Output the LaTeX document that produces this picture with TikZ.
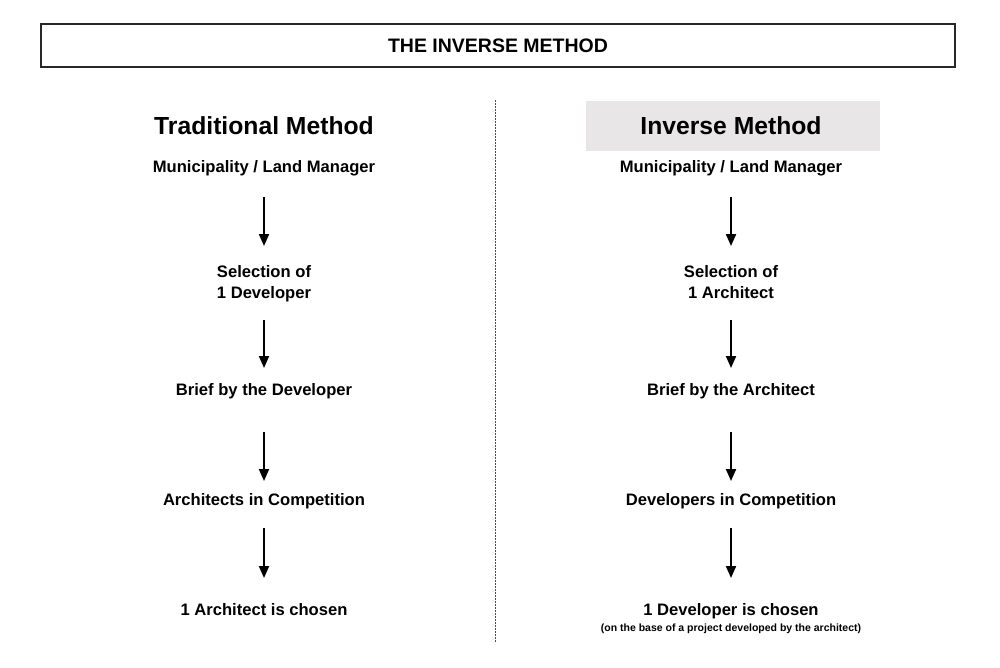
\documentclass[tikz,border=0pt]{standalone}
\usepackage{fontspec}
\setmainfont{Liberation Sans}
\usepackage{tikz}
\usetikzlibrary{arrows.meta,positioning}
\definecolor{headgray}{RGB}{232,230,230}
\definecolor{framegray}{RGB}{40,40,40}

\begin{document}
\begin{tikzpicture}[x=1pt,y=-1pt,
    stage/.style={font=\fontsize{16.6}{21}\selectfont\bfseries,inner sep=0pt,align=center},
    head/.style={font=\fontsize{24.7}{30}\selectfont\bfseries,inner sep=0pt},
    note/.style={font=\fontsize{10.5}{12}\selectfont\bfseries,inner sep=0pt},
    flow/.style={line width=2pt,-{Triangle[width=10pt,length=12pt]}}]
        \useasboundingbox (0,0) rectangle (1000,667);
        \def\xl{264}
        \def\xr{731}
        % title
        \node[draw=framegray,line width=1.4pt,minimum width=914pt,minimum height=43pt,
          font=\fontsize{19.5}{22}\selectfont\bfseries] (title) at (498,45.5) {THE INVERSE METHOD};
        \draw[black!70,line width=1pt,dash pattern=on 1.5pt off 1.5pt] (495,100) -- (495,642);
        % traditional
        \node[head] (lhead) at (\xl,126) {Traditional Method};
        \node[stage,anchor=base] (l1) at (\xl,172) {Municipality / Land Manager};
        \node[stage,anchor=base] (l2) at (\xl,298) {Selection of\\1 Developer};
        \node[stage,anchor=base] (l3) at (\xl,395) {Brief by the Developer};
        \node[stage,anchor=base] (l4) at (\xl,505) {Architects in Competition};
        \node[stage,anchor=base] (l5) at (\xl,615) {1 Architect is chosen};
        % inverse
        \fill[headgray] (586,101) rectangle (880,151);
        \node[head] (rhead) at (\xr,126) {Inverse Method};
        \node[stage,anchor=base] (r1) at (\xr,172) {Municipality / Land Manager};
        \node[stage,anchor=base] (r2) at (\xr,298) {Selection of\\1 Architect};
        \node[stage,anchor=base] (r3) at (\xr,395) {Brief by the Architect};
        \node[stage,anchor=base] (r4) at (\xr,505) {Developers in Competition};
        \node[stage,anchor=base] (r5) at (\xr,615) {1 Developer is chosen};
        \node[note,anchor=base] (r5note) at (\xr,631) {(on the base of a project developed by the architect)};
        % arrows (gaps taken from baselines)
        \foreach \a/\b/\s/\e in {1/2/25/52,2/3/22/27,3/4/37/24,4/5/23/37} {
          \draw[flow,shorten <=\s pt,shorten >=\e pt] (l\a.base) -- (l\b.base);
          \draw[flow,shorten <=\s pt,shorten >=\e pt] (r\a.base) -- (r\b.base);
        }
      \end{tikzpicture}
\end{document}
